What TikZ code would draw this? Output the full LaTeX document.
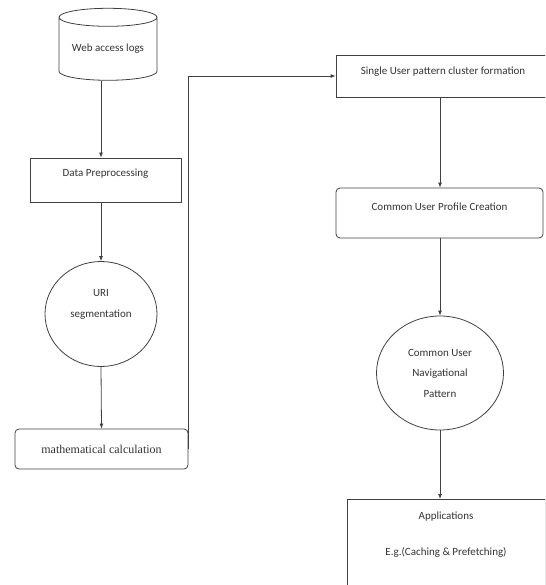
\documentclass[tikz,border=0pt]{standalone}
\usepackage{fontspec}
\setmainfont{Carlito}
\newfontfamily\calcfont{Liberation Serif}
\usetikzlibrary{shapes.geometric,arrows.meta}

\begin{document}
\begin{tikzpicture}[x=1pt, y=-1pt,
    every node/.style={font=\fontsize{11}{13.5}\selectfont, text=black!80},
    line/.style={draw=black!75, line width=0.8pt},
    arrow/.style={line, -{Latex[length=5pt,width=4pt]}},
    box/.style={line, rectangle, inner sep=0pt},
    roundbox/.style={box, rounded corners=4pt},
    oval/.style={line, ellipse, inner sep=0pt, align=center}]
    \useasboundingbox (0,0) rectangle (545,585);
    \clip (0,0) rectangle (545,585);
    % left column
    \node[line, cylinder, shape border rotate=90, shape aspect=0.25,
        minimum width=98pt, minimum height=72pt, inner sep=0pt] (logs) at (108,49) {Web access logs};
    \node[box, minimum width=151pt, text height=19pt, text depth=25pt] (prep) at (105.5,180) {Data Preprocessing};
    \node[oval, minimum width=112pt, minimum height=105pt] (uri) at (101,314) {URI\\[8pt]segmentation\\[8pt]~};
    \node[roundbox, minimum width=173pt, minimum height=40pt,
        font=\calcfont\fontsize{12}{14}\selectfont] (calc) at (101.5,449) {mathematical calculation};
    % right column
    \node[box, minimum width=214pt, text height=20pt, text depth=22pt] (single) at (443,76) {Single User pattern cluster formation};
    \node[roundbox, minimum width=207pt, text height=22pt, text depth=28pt] (profile) at (439.5,213) {Common User Profile Creation};
    \node[oval, minimum width=127pt, minimum height=114pt] (nav) at (440,373) {Common User\\[7pt]Navigational\\[7pt]Pattern};
    \node[box, anchor=north, minimum width=198pt, inner ysep=12pt] (apps) at (446,499)
        {\parbox[t][100pt][t]{190pt}{\centering Applications\\[23pt]E.g.(Caching \& Prefetching)}};
    % connectors
    \draw[arrow] (logs.south -| uri.north) -- (prep.north -| uri.north);
    \draw[arrow] (prep.south -| uri.north) -- (uri.north);
    \draw[arrow] (uri.south) -- (calc.north);
    \draw[arrow] (calc.east) |- (single.west);
    \draw[arrow] (single.south -| nav.north) -- (profile.north -| nav.north);
    \draw[arrow] (profile.south -| nav.north) -- (nav.north);
    \draw[arrow] (nav.south) -- (apps.north -| nav.south);
\end{tikzpicture}
\end{document}
